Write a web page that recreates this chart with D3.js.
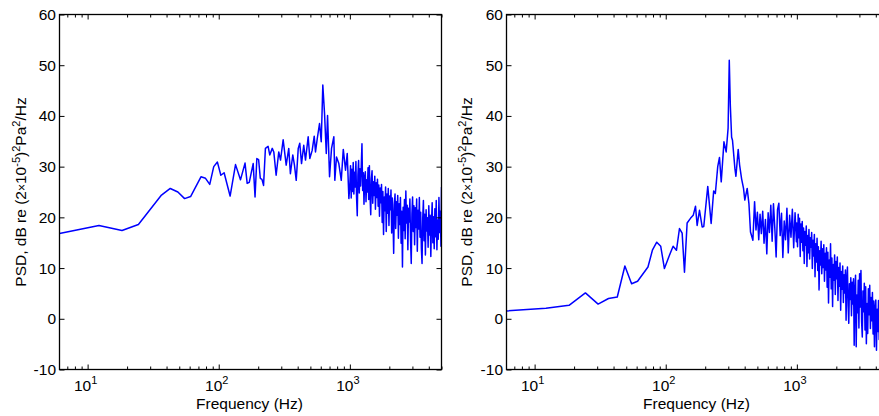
<!DOCTYPE html>
<html>
<head>
<meta charset="utf-8">
<script src="https://cdn.jsdelivr.net/npm/d3@7"></script>
<style>
  body { margin: 0; background: #fff; }
  svg { display: block; }
  text { font-family: "Liberation Sans", Arial, Helvetica, sans-serif; fill: #000; }
</style>
</head>
<body>
<svg id="chart" width="879" height="416"></svg>
<script>
// ---- Data -------------------------------------------------------------
// Axis settings
const freqDomain = [6.1035, 5000];          // Hz
const dbDomain = [-10, 60];                 // dB
const yTickValues = [-10, 0, 10, 20, 30, 40, 50, 60];
const xDecadeTicks = [10, 100, 1000];
const xDecadeExponents = ["1", "2", "3"];

// Left spectrum, low / mid frequencies
const leftFreqLow = [6.1, 12.2, 18.3, 24.4, 36.6, 42.7, 48.8, 54.9, 61.0, 73.2, 79.3, 85.4,
  91.6, 97.7, 103.8, 109.9, 122.1, 134.3, 146.5, 158.7, 164.8, 170.9, 183.1, 189.2, 195.3,
  201.4, 207.5, 213.6, 219.7, 227, 238, 245, 256, 263, 274, 287, 296, 310, 327, 342, 352,
  367, 378, 390, 404, 415, 428, 445, 459, 481, 495, 516, 535, 547, 564, 587, 605, 622, 641,
  661, 676, 700, 725, 755, 768, 791, 824, 860, 891, 927, 955, 983];
const leftDbLow = [16.8, 18.4, 17.4, 18.6, 24.4, 25.7, 25.0, 23.7, 24.1, 28.0, 27.7, 26.5,
  30.0, 30.9, 28.3, 28.8, 24.2, 30.4, 27.4, 30.7, 26.7, 26.9, 30.6, 24.0, 31.6,
  31.4, 27.7, 27.5, 26.3, 33.6, 34.0, 32.3, 33.6, 32.9, 28.3, 32.9, 31.3, 35.3, 30.3, 33.6, 28.6,
  32.3, 30.3, 27.3, 33.6, 34.6, 30.6, 34.2, 31.3, 35.9, 31.6, 33.2, 36.0, 32.9, 35.5, 38.5, 34.9, 46.1, 40.5,
  32.6, 40.1, 28.0, 33.6, 35.9, 27.3, 31.9, 30.6, 27.3, 33.4, 29.3, 32.6, 23.7];

// Right spectrum, low / mid frequencies
const rightFreqLow = [6.1, 12.2, 18.3, 24.4, 30.5, 36.6, 42.7, 48.8, 54.9, 61.0, 73.2, 79.3,
  85.4, 91.6, 97.7, 105.5, 113.8, 120.7, 127.3, 133.4, 139.0, 145.6, 154.4, 162.0, 168.7,
  173.6, 180.9, 189.6, 195.0, 209.2, 222, 232, 239, 249.2, 257, 265, 278, 289, 299, 305.2,
  311, 318, 323, 337, 343, 357, 366, 379, 392, 401, 418, 431, 443, 462,
  476, 488, 500, 512, 524, 536, 549, 562, 576, 590, 604, 618, 633, 648, 663, 679, 695, 712,
  729, 746, 764, 782, 801, 820, 840, 860, 881, 902, 924, 946, 969, 992];
const rightDbLow = [1.55, 2.1, 2.66, 5.1, 2.9, 4.0, 4.3, 10.4, 6.9, 7.4, 10.2, 13.6,
  15.1, 14.3, 9.9, 12.2, 14.3, 13.5, 17.8, 16.9, 9.2, 18.9, 19.8, 20.4, 22.2,
  18.4, 21.4, 18.1, 18.2, 26.1, 18.8, 25.2, 24.7, 30.0, 31.8, 27.0, 34.9, 32.9, 37.6, 51.0,
  42.0, 35.8, 35.2, 29.6, 28.1, 33.4, 30.3, 27.6, 25.7, 23.4, 25.7, 22.7, 17.1, 15.5,
  23.1, 17.5, 21.0, 15.6, 20.6, 16.8, 21.2, 14.9, 19.6, 12.8, 20.9, 17.0, 22.4, 15.3, 22.7, 17.9, 12.2, 21.5,
  22.8, 16.4, 20.8, 12.1, 19.3, 15.6, 21.8, 13.0, 20.4, 16.1, 21.6, 14.0, 20.9, 15.2];

// High-frequency band, shared frequency samples for both spectra
const hfFreq = [1000, 1012, 1024, 1036, 1048, 1061, 1073, 1086, 1099, 1112, 1125, 1139, 1152,
  1166, 1180, 1194, 1208, 1222, 1237, 1252, 1267, 1282, 1297, 1312, 1328, 1344, 1360, 1376,
  1392, 1409, 1426, 1443, 1460, 1477, 1495, 1513, 1531, 1549, 1567, 1586, 1605, 1624, 1644,
  1663, 1683, 1703, 1724, 1744, 1765, 1786, 1807, 1829, 1851, 1873, 1895, 1918, 1941, 1964,
  1987, 2011, 2035, 2059, 2084, 2109, 2134, 2159, 2185, 2211, 2237, 2264, 2291, 2318, 2346,
  2374, 2402, 2431, 2460, 2489, 2519, 2549, 2579, 2610, 2641, 2673, 2705, 2737, 2770, 2803,
  2836, 2870, 2904, 2939, 2974, 3009, 3045, 3082, 3118, 3156, 3193, 3232, 3270, 3309, 3349,
  3389, 3429, 3470, 3511, 3553, 3596, 3639, 3682, 3726, 3770, 3815, 3861, 3907, 3953, 4001,
  4048, 4097, 4145, 4195, 4245, 4296, 4347, 4399, 4451, 4504, 4558, 4613, 4668, 4723, 4780,
  4837, 4895, 4953, 5000];
const leftDbHigh = [26.5, 30.2, 23.8, 29.5, 25.1, 30.8, 24.6, 28.9, 26.0, 31.0, 23.9, 20.3, 28.4,
  31.2, 24.8, 29.6, 26.2, 30.1, 34.5, 25.3, 28.8, 22.6, 27.9, 29.0, 23.1, 27.4, 25.0, 29.8,
  23.5, 30.2, 24.1, 20.5, 27.6, 29.2, 22.8, 27.0, 24.3, 28.1, 21.6, 26.8, 23.9, 27.5, 22.2,
  26.4, 20.2, 25.8, 22.9, 26.5, 19.0, 25.1, 16.6, 24.0, 21.3, 26.0, 17.2, 24.6, 20.8, 25.7,
  18.4, 24.2, 21.5, 25.4, 16.9, 23.8, 19.7, 12.9, 22.5, 24.6, 17.8, 23.1, 20.4, 24.3, 15.9,
  22.7, 18.6, 23.9, 14.9, 21.2, 10.2, 22.0, 17.4, 23.5, 15.8, 25.2, 18.9, 22.4, 13.6, 21.8,
  19.1, 23.6, 15.5, 10.9, 20.7, 24.0, 17.2, 22.3, 14.6, 21.9, 18.0, 23.6, 13.3, 21.4, 17.7,
  23.9, 16.1, 21.0, 13.9, 10.9, 19.8, 23.3, 15.4, 20.6, 12.6, 21.5, 17.3, 19.9, 14.1, 22.3,
  16.5, 20.4, 12.3, 19.2, 22.9, 15.0, 20.1, 13.8, 21.7, 16.2, 23.3, 13.6, 19.5, 15.7, 23.9,
  17.0, 21.2, 14.3, 26.0];
const rightDbHigh = [18.9, 14.2, 20.6, 16.0, 19.8, 12.3, 18.7, 15.1, 19.2, 13.4, 17.9, 10.9, 17.2,
  14.5, 18.3, 10.3, 16.4, 13.0, 17.6, 11.8, 16.0, 14.1, 17.0, 9.9, 15.5, 12.4, 16.6, 8.3,
  14.8, 11.2, 15.9, 9.5, 14.2, 5.7, 13.4, 10.6, 15.3, 8.9, 13.8, 10.1, 14.6, 7.4, 12.9,
  9.6, 14.0, 6.2, 13.1, 3.1, 11.6, 8.2, 14.8, 5.9, 12.0, 2.4, 10.7, 7.6, 12.6, 4.8,
  11.3, 7.9, 12.2, 3.6, 10.1, 6.4, 11.0, 1.7, 9.3, 5.8, 10.4, 3.2, 8.7, 5.1, 9.6,
  -0.3, 7.8, 10.2, 2.6, -0.9, 6.9, 3.8, 8.1, 0.6, 7.2, 2.9, 7.9, -5.2, 5.4, 8.6,
  -5.5, 4.7, 1.2, 7.6, -1.8, 8.9, 2.3, 9.5, -0.6, -3.6, 5.5, 1.4, 7.0, -2.2, 6.3,
  -4.9, 3.0, -2.9, 5.9, 0.8, 6.6, -1.9, 4.2, -0.4, 5.2, -3.0, 3.5, -5.5, 2.1, 3.7,
  -6.2, 1.9, -2.5, 3.6, -4.1, 1.6, -5.0, 2.4, -1.3, 3.1, -3.8, 1.0, -2.6, 3.4, -4.4,
  0.7, -2.0, 2.2, -1.1];

// ---- Layout -----------------------------------------------------------
const svg = d3.select("#chart");
const plotTop = 14.5, plotBottom = 369.5;
const panels = [
  { id: "a", left: 59.5, right: 441.5, labelX: 20,
    freq: leftFreqLow.concat(hfFreq), db: leftDbLow.concat(leftDbHigh) },
  { id: "b", left: 506.5, right: 888.5, labelX: 466,
    freq: rightFreqLow.concat(hfFreq), db: rightDbLow.concat(rightDbHigh) }
];

const fontSize = 15.5;
const supSize = 11;

panels.forEach(p => {
  const x = d3.scaleLog().domain(freqDomain).range([p.left, p.right]);
  const y = d3.scaleLinear().domain(dbDomain).range([plotBottom, plotTop]);
  const g = svg.append("g");

  // clip region for the trace
  const clipId = "clip-" + p.id;
  svg.append("clipPath").attr("id", clipId)
    .append("rect").attr("x", p.left).attr("y", plotTop)
    .attr("width", p.right - p.left).attr("height", plotBottom - plotTop);

  // spectrum trace
  const pts = d3.zip(p.freq, p.db);
  g.append("path")
    .datum(pts)
    .attr("clip-path", `url(#${clipId})`)
    .attr("fill", "none")
    .attr("stroke", "#0000ff")
    .attr("stroke-width", 1.5)
    .attr("stroke-linejoin", "round")
    .attr("d", d3.line().x(d => x(d[0])).y(d => y(d[1])));

  // minor log ticks (2..9 per decade)
  const minor = [];
  [1, 10, 100, 1000].forEach(dec => {
    for (let m = 2; m <= 9; m++) {
      const v = dec * m;
      if (v >= freqDomain[0] && v <= freqDomain[1]) minor.push(v);
    }
  });

  const axisStyle = sel => {
    sel.select(".domain").remove();
    sel.selectAll(".tick line").attr("stroke", "#000").attr("stroke-width", 1);
    sel.selectAll(".tick text").remove();
  };

  // bottom & top: major and minor ticks pointing inward
  g.append("g").attr("transform", `translate(0,${plotBottom})`)
    .call(d3.axisBottom(x).tickValues(xDecadeTicks).tickSize(-5)).call(axisStyle);
  g.append("g").attr("transform", `translate(0,${plotBottom})`)
    .call(d3.axisBottom(x).tickValues(minor).tickSize(-3)).call(axisStyle);
  g.append("g").attr("transform", `translate(0,${plotTop})`)
    .call(d3.axisTop(x).tickValues(xDecadeTicks).tickSize(-5)).call(axisStyle);
  g.append("g").attr("transform", `translate(0,${plotTop})`)
    .call(d3.axisTop(x).tickValues(minor).tickSize(-3)).call(axisStyle);

  // left & right: y ticks pointing inward
  g.append("g").attr("transform", `translate(${p.left},0)`)
    .call(d3.axisLeft(y).tickValues(yTickValues).tickSize(-5)).call(axisStyle);
  g.append("g").attr("transform", `translate(${p.right},0)`)
    .call(d3.axisRight(y).tickValues(yTickValues).tickSize(-5)).call(axisStyle);

  // frame
  g.append("rect")
    .attr("x", p.left).attr("y", plotTop)
    .attr("width", p.right - p.left).attr("height", plotBottom - plotTop)
    .attr("fill", "none").attr("stroke", "#000").attr("stroke-width", 1.3);

  // y tick labels
  g.selectAll(".ylab").data(yTickValues).join("text")
    .attr("x", p.left - 3.5)
    .attr("y", d => y(d) + 5.5)
    .attr("text-anchor", "end")
    .attr("font-size", fontSize)
    .text(d => d);

  // x tick labels: 10 with superscript exponent
  xDecadeTicks.forEach((v, i) => {
    const t = g.append("text")
      .attr("x", x(v) - 2)
      .attr("y", 390.5)
      .attr("text-anchor", "middle")
      .attr("font-size", fontSize);
    t.append("tspan").text("10");
    t.append("tspan").attr("font-size", supSize).attr("dy", -7).text(xDecadeExponents[i]);
  });

  // x axis title
  g.append("text")
    .attr("x", (p.left + p.right) / 2 - 1)
    .attr("y", 408.5)
    .attr("text-anchor", "middle")
    .attr("font-size", fontSize)
    .text("Frequency (Hz)");

  // y axis title
  const yl = g.append("text")
    .attr("transform", `translate(${p.labelX + 5.5},${(plotTop + plotBottom) / 2}) rotate(-90)`)
    .attr("text-anchor", "middle")
    .attr("font-size", fontSize);
  yl.append("tspan").text("PSD, dB re (2");
  yl.append("tspan").attr("font-size", 12).text("×");
  yl.append("tspan").text("10");
  yl.append("tspan").attr("font-size", supSize).attr("dy", -6).text("-5");
  yl.append("tspan").attr("dy", 6).text(")");
  yl.append("tspan").attr("font-size", supSize).attr("dy", -6).text("2");
  yl.append("tspan").attr("dy", 6).text("Pa");
  yl.append("tspan").attr("font-size", supSize).attr("dy", -6).text("2");
  yl.append("tspan").attr("dy", 6).text("/Hz");
});
</script>
</body>
</html>
